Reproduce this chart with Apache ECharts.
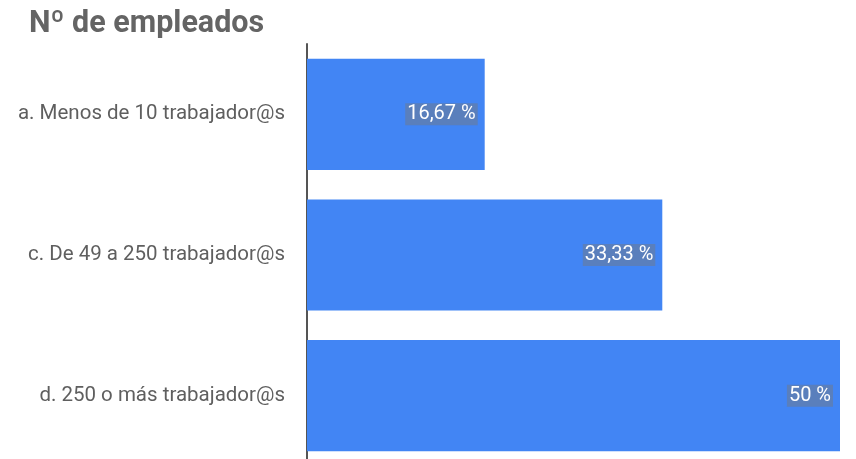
<!DOCTYPE html>
<html>
<head>
<meta charset="utf-8">
<script src="https://cdn.jsdelivr.net/npm/echarts@6/dist/echarts.min.js"></script>
<style>
  html, body { margin: 0; padding: 0; background: #fff; }
  #chart { width: 856px; height: 459px; }
</style>
</head>
<body>
<div id="chart"></div>
<script>
// datos
const categories = [
  "a. Menos de 10 trabajador@s",
  "c. De 49 a 250 trabajador@s",
  "d. 250 o más trabajador@s",
];
const values = [16.67, 33.33, 50];

const chart = echarts.init(document.getElementById("chart"));

const option = {
  animation: false,
  textStyle: { fontFamily: "Roboto" },
  title: {
    text: "Nº de empleados",
    left: 29,
    top: 9,
    padding: 0,
    textStyle: {
      fontFamily: "Roboto",
      fontSize: 30.5,
      fontWeight: "bold",
      color: "#646464",
    },
  },
  grid: {
    left: 307,
    right: 16,
    top: 44,
    height: 422,
    outerBoundsMode: "none",
    containLabel: false,
  },
  xAxis: {
    type: "value",
    min: 0,
    max: 50,
    show: false,
  },
  yAxis: {
    type: "category",
    data: categories,
    inverse: true,
    axisLine: { show: true, lineStyle: { color: "#555555", width: 2 } },
    axisTick: { show: false },
    axisLabel: {
      margin: 22,
      padding: [5, 0, 0, 0],
      fontFamily: "Roboto",
      fontSize: 20.5,
      color: "#5f5f5f",
    },
  },
  series: [
    {
      type: "bar",
      data: values,
      barCategoryGap: "21%",
      itemStyle: { color: "#4285F4" },
      label: {
        show: true,
        position: "insideRight",
        distance: 7,
        fontFamily: "Roboto",
        fontSize: 20,
        color: "#ffffff",
        backgroundColor: "rgba(119,119,119,0.45)",
        padding: [2, 2, 0, 2],
        formatter: function (p) {
          return String(p.value).replace(".", ",") + " %";
        },
      },
    },
  ],
};

chart.setOption(option);
</script>
</body>
</html>
